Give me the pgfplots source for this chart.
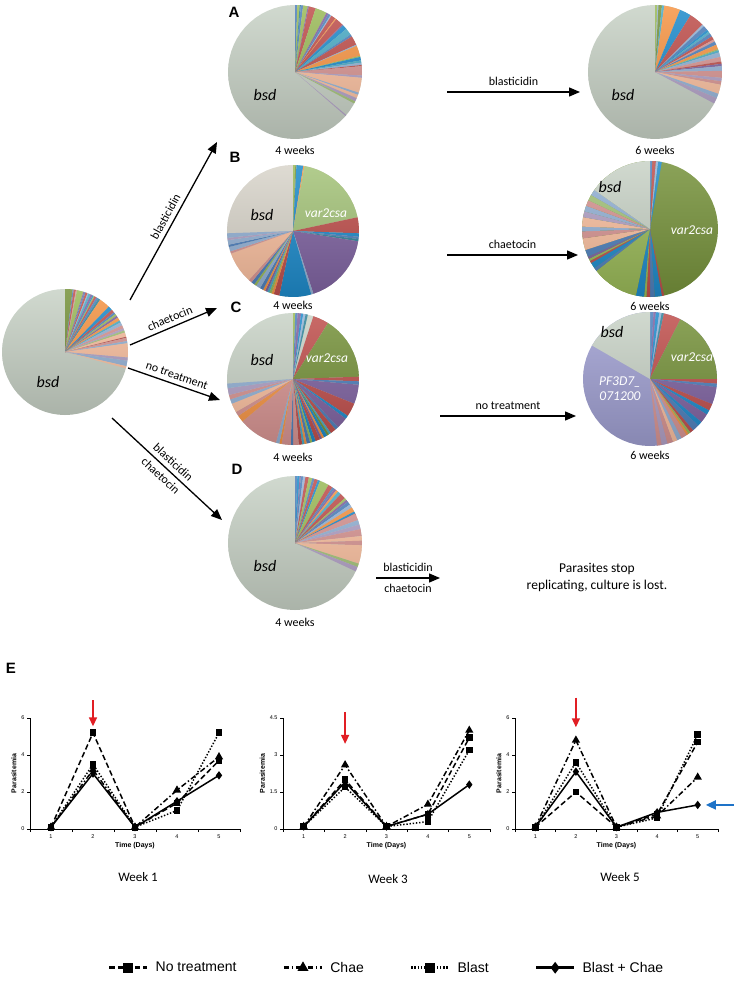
\documentclass[border=0pt]{standalone}
\usepackage{pgfplots}
\pgfplotsset{compat=1.18}
\usepackage{fontspec}
\setmainfont{Carlito}
\newfontfamily\arial{Liberation Sans}
\usetikzlibrary{arrows.meta}

\definecolor{cbsd}{RGB}{201,211,199}
\definecolor{cbsdB}{RGB}{217,213,203}
\definecolor{cB}{RGB}{79,129,189}
\definecolor{cR}{RGB}{192,80,77}
\definecolor{cG}{RGB}{155,187,89}
\definecolor{cDG}{RGB}{119,147,60}
\definecolor{cLG}{RGB}{165,196,122}
\definecolor{cP}{RGB}{128,100,162}
\definecolor{cA}{RGB}{75,172,198}
\definecolor{cAB}{RGB}{31,140,204}
\definecolor{cT}{RGB}{49,133,156}
\definecolor{cO}{RGB}{247,150,70}
\definecolor{cPE}{RGB}{250,192,160}
\definecolor{cPK}{RGB}{217,150,148}
\definecolor{cLB}{RGB}{149,179,215}
\definecolor{cLV}{RGB}{179,162,199}
\definecolor{cPF}{RGB}{160,160,210}
\definecolor{redarrow}{RGB}{225,30,36}
\definecolor{bluearrow}{RGB}{30,115,200}

% one pie slice, angles clockwise from 12 o'clock
\newcommand\slice[4][]{%
  \pgfmathtruncatemacro\nseg{max(1,ceil(((#4)-(#3))/6))}%
  \pgfmathsetmacro\stp{((#4)-(#3))/\nseg}%
  \xdef\pts{(0,0)}%
  \foreach \k in {0,...,\nseg}{%
    \pgfmathsetmacro\ang{90-(#3)-\stp*\k}%
    \xdef\pts{\pts (\ang,1)}}%
  \edef\doslice{\noexpand\addplot[fill=#2,draw=none,data cs=polar,#1] coordinates {\pts (0,0)};}%
  \doslice}

% centre x, centre y, diameter, background colour, slices
\newcommand\piechart[5]{%
  \begin{axis}[at={(#1pt,-#2pt)},anchor=center,scale only axis,
    width=#3pt,height=#3pt,xmin=-1,xmax=1,ymin=-1,ymax=1,hide axis,clip=false]
    \slice{#4}{0}{360}
    \foreach \c/\a/\b in {#5}{\slice{\c}{\a}{\b}}
    \slice[top color=white,bottom color=black,fill opacity=0.15]{none}{0}{360}
  \end{axis}}

\pgfplotsset{
  graph/.style={scale only axis,height=111pt,anchor=south west,
    xmin=0.5,xmax=5.5,ymin=0,clip=false,
    axis x line*=bottom,axis y line*=left,
    axis line style={line width=0.6pt},
    tick align=outside,major tick length=0pt,minor tick length=3pt,
    xtick={1,2,3,4,5},minor xtick={0.5,1.5,2.5,3.5,4.5,5.5},
    tick style={line width=0.5pt,black},
    tick label style={font=\arial\fontsize{5.5}{6}\selectfont},
    yticklabel style={xshift=-2pt},xticklabel style={yshift=-2pt},
    /pgf/number format/assume math mode=true,
    xlabel={Time (Days)},ylabel={Parasitemia},
    label style={font=\arial\bfseries\fontsize{7}{8}\selectfont},
    xlabel style={yshift=3pt},ylabel style={yshift=-2pt}},
  nt/.style={black,line width=1.5pt,dash pattern=on 5.5pt off 3pt,mark=square*,mark size=2.6pt,mark options={solid}},
  ch/.style={black,line width=1.5pt,dash pattern=on 5.5pt off 2.5pt on 1.5pt off 2.5pt,mark=triangle*,mark size=3.3pt,mark options={solid}},
  bl/.style={black,line width=1.5pt,dash pattern=on 1.4pt off 1.8pt,mark=square*,mark size=2.6pt,mark options={solid}},
  bc/.style={black,line width=1.5pt,mark=diamond*,mark size=3pt},
}

\tikzset{bigarrow/.style={line width=1.3pt,-{Triangle[length=11pt,width=9pt]}},
  redarr/.style={redarrow,line width=1.6pt,-{Triangle[length=9pt,width=8pt]}},
  lab/.style={font=\fontsize{12}{14}\selectfont},
  bsdlab/.style={font=\fontsize{16}{18}\selectfont\itshape},
  varlab/.style={font=\fontsize{13.5}{15}\selectfont\itshape,text=white},
  panel/.style={font=\arial\bfseries\fontsize{15}{17}\selectfont}}

\begin{document}
\begin{tikzpicture}[x=1pt,y=1pt]
\path[use as bounding box] (0,0) rectangle (733,-1008);

% starting culture
\piechart{65}{352}{126}{cbsd}{cDG/0/7, cB/7/8, cR/8/10, cPK/10/11, cG/11/17, cP/17/18, cB/18/19, cR/19/21, cLB/21/22, cA/22/24, cP/24/26, cAB/26/27, cG/27/28, cR/28/30, cB/30/32, cT/32/34, cO/34/44, cAB/44/48, cR/48/51, cB/51/53, cG/53/55, cP/55/57, cO/57/60, cA/60/62, cLB/62/65, cPK/65/68, cLV/68/70, cLG/70/72, cPE/72/76, cR/76/77, cPK/77/80, cLB/80/82, cPE/82/95, cLV/95/98, cLB/98/103, cPE/103/105}
\node[bsdlab] at (48,-382) {bsd};

% A
\piechart{295}{72}{134}{cbsd}{cB/0/2, cG/2/4, cT/4/5, cB/5/7, cG/7/11, cP/11/12, cR/12/18, cG/18/28, cP/28/30, cB/30/32, cLB/32/33, cR/33/37, cO/37/38, cR/38/45, cP/45/46, cAB/46/50, cA/50/56, cB/56/58, cR/58/66, cLB/66/67, cO/67/76, cG/76/77, cAB/77/80, cA/80/82, cLB/82/84, cR/84/85, cPK/85/93, cLV/93/95, cPE/95/108, cLB/108/110, cPE/110/113, cLV/113/116, cLG/116/118, cLV/130/131}
\node[bsdlab] at (265,-95) {bsd};
\node[lab] at (295,-150) {4 weeks};
\piechart{655}{72}{134}{cbsd}{cG/0/2, cLB/2/3, cDG/3/6, cA/6/8, cO/8/22, cAB/22/32, cR/32/45, cLB/45/47, cB/47/51, cAB/51/53, cA/53/55, cB/55/58, cR/58/61, cPK/61/63, cB/63/66, cO/66/70, cG/70/71, cA/71/73, cLB/73/77, cPK/77/81, cR/81/83, cP/83/85, cLB/85/89, cPK/89/95, cLV/95/98, cPK/98/101, cPE/101/109, cLB/109/113, cLV/113/118}
\node[bsdlab] at (623,-95) {bsd};
\node[lab] at (655,-150) {6 weeks};

% B
\piechart{293}{231}{132}{cbsdB}{cG/0/2, cDG/2/3, cAB/3/9, cO/9/10, cLG/10/78, cR/78/92, cAB/92/95, cB/95/97, cT/97/99, cP/99/162, cLB/162/164, cAB/164/192, cR/192/197, cO/197/199, cG/199/201, cA/201/203, cP/203/205, cO/205/207, cB/207/210, cLB/210/214, cG/214/216, cB/216/219, cPK/219/222, cPE/222/250, cPK/250/252, cLB/252/256, cB/256/258, cLB/258/262, cLV/262/264, cLB/264/268}
\node[bsdlab] at (262,-215) {bsd};
\node[varlab] at (326,-213) {var2csa};
\node[lab] at (293,-305) {4 weeks};
\piechart{650}{229}{136}{cDG}{cB/0/2, cR/2/5, cLB/5/7, cAB/7/10, cR/168/170, cAB/170/176, cB/176/180, cR/180/183, cG/183/185, cAB/185/192, cG/192/232, cB/232/235, cAB/235/240, cR/240/242, cG/242/244, cP/244/246, cB/246/252, cPE/252/262, cPK/262/268, cLB/268/272, cPE/272/280, cLV/280/285, cLB/285/290, cPK/290/295, cLG/295/300, cLB/300/305, cbsd/305/360}
\node[bsdlab] at (610,-187) {bsd};
\node[varlab] at (692,-230) {var2csa};
\node[lab] at (650,-306) {6 weeks};

% C
\piechart{293}{379}{132}{cbsd}{cG/0/2, cB/2/4, cP/4/7, cAB/7/9, cLB/9/11, cT/11/13, cR/18/32, cDG/32/88, cR/88/92, cB/92/95, cP/95/112, cR/112/124, cAB/124/127, cP/127/137, cB/137/140, cR/140/145, cA/145/147, cDG/147/149, cAB/149/152, cO/152/154, cP/154/156, cR/156/160, cAB/160/163, cG/163/165, cB/165/168, cO/168/170, cA/170/172, cR/172/175, cPK/175/180, cB/180/182, cPK/182/190, cO/190/192, cLB/192/195, cPK/195/230, cO/230/236, cPK/236/240, cPE/240/248, cLB/248/252, cPK/252/256, cLV/256/262, cLB/262/266}
\node[bsdlab] at (262,-360) {bsd};
\node[varlab] at (327,-358) {var2csa};
\node[lab] at (293,-457) {4 weeks};
\piechart{650}{379}{134}{cPF}{cB/0/3, cP/3/5, cAB/5/8, cLB/8/10, cT/10/12, cR/12/27, cDG/27/90, cR/90/94, cB/94/97, cP/97/112, cR/112/118, cAB/118/122, cP/122/130, cAB/130/134, cB/134/140, cR/140/143, cG/143/145, cO/145/147, cPK/147/152, cLB/152/156, cPE/156/160, cPK/160/165, cLV/165/170, cPK/170/174, cbsd/300/360}
\node[bsdlab] at (612,-332) {bsd};
\node[varlab] at (692,-357) {var2csa};
\node[varlab,align=center] at (620,-389) {PF3D7\_\\071200};
\node[lab] at (650,-455) {6 weeks};

% D
\piechart{295}{543}{134}{cbsd}{cB/0/2, cAB/2/4, cP/4/5, cB/5/7, cLB/7/9, cR/9/12, cG/12/15, cB/15/17, cR/17/20, cAB/20/22, cG/22/30, cR/30/34, cB/34/36, cP/36/38, cO/38/40, cA/40/43, cR/43/48, cG/48/50, cP/50/52, cB/52/55, cLB/55/58, cO/58/62, cAB/62/64, cR/64/66, cPK/64/70, cLB/70/74, cLV/74/78, cPK/78/84, cPE/84/88, cPK/88/92, cPE/92/108, cLG/108/111, cLV/111/115}
\node[bsdlab] at (265,-566) {bsd};
\node[lab] at (295,-622) {4 weeks};

% panel letters
\node[panel] at (234,-12) {A};
\node[panel] at (235,-157) {B};
\node[panel] at (236,-307) {C};
\node[panel] at (237,-469) {D};
\node[panel] at (11,-668) {E};

% arrows from the starting culture
\draw[bigarrow] (130,-300) -- node[lab,midway,above=1pt,sloped] {blasticidin} (217,-142);
\draw[bigarrow] (130,-345) -- node[lab,midway,above=1pt,sloped] {chaetocin} (217,-308);
\draw[bigarrow] (128,-368) -- node[lab,midway,above=1pt,sloped] {no treatment} (220,-400);
\draw[bigarrow] (112,-418) -- node[lab,midway,above=1pt,sloped] {blasticidin} node[lab,midway,below=1pt,sloped] {chaetocin} (222,-520);

% arrows between time points
\draw[bigarrow] (447,-92) -- node[lab,above=2pt] {blasticidin} (580,-92);
\draw[bigarrow] (447,-255) -- node[lab,above=2pt] {chaetocin} (578,-255);
\draw[bigarrow] (440,-416) -- node[lab,above=2pt] {no treatment} (576,-416);
\draw[bigarrow] (376,-578) -- node[lab,above=2pt] {blasticidin} node[lab,below=2pt] {chaetocin} (440,-578);
\node[font=\fontsize{13.5}{17}\selectfont,align=center] at (597,-578) {Parasites stop\\replicating, culture is lost.};

% E: parasitemia
\begin{axis}[graph,at={(30pt,-829pt)},width=210pt,ymax=6,ytick={0,2,4,6},minor ytick={0,2,4,6}]
\draw[redarr] (axis cs:2,6.95) -- (axis cs:2,5.55);
\addplot[nt] coordinates {(1,0.1) (2,5.2) (3,0.1) (4,1.4) (5,3.7)};
\addplot[ch] coordinates {(1,0.1) (2,3.2) (3,0.1) (4,2.1) (5,3.9)};
\addplot[bl] coordinates {(1,0.1) (2,3.5) (3,0.1) (4,1.0) (5,5.2)};
\addplot[bc] coordinates {(1,0.1) (2,3.0) (3,0.1) (4,1.5) (5,2.9)};
\end{axis}
\node[font=\fontsize{13}{15}\selectfont] at (138,-877) {Week 1};

\begin{axis}[graph,at={(283pt,-829pt)},width=207pt,ymax=4.5,ytick={0,1.5,3,4.5},minor ytick={0,1.5,3,4.5},
  legend columns=4,
  legend style={at={(0.5,-1.25)},anchor=center,draw=none,fill=none,
    font=\arial\fontsize{14}{16}\selectfont,
    /tikz/every odd column/.append style={column sep=5pt},
    /tikz/every even column/.append style={column sep=44pt}},
  legend image code/.code={\draw[mark repeat=2,mark phase=2,#1] plot coordinates {(0pt,0pt) (19pt,0pt) (38pt,0pt)};},
  legend image post style={line width=2.8pt,mark size=3.6pt}]
\draw[redarr] (axis cs:2,4.75) -- (axis cs:2,3.45);
\addplot[nt] coordinates {(1,0.1) (2,2.0) (3,0.1) (4,0.6) (5,3.7)};
\addplot[ch] coordinates {(1,0.1) (2,2.6) (3,0.1) (4,1.0) (5,4.0)};
\addplot[bl] coordinates {(1,0.1) (2,1.7) (3,0.1) (4,0.3) (5,3.2)};
\addplot[bc] coordinates {(1,0.1) (2,1.9) (3,0.1) (4,0.6) (5,1.8)};
\legend{No treatment,Chae,Blast,Blast + Chae}
\end{axis}
\node[font=\fontsize{13}{15}\selectfont] at (388,-879) {Week 3};

\begin{axis}[graph,at={(515pt,-829pt)},width=203pt,ymax=6,ytick={0,2,4,6},minor ytick={0,2,4,6}]
\draw[redarr] (axis cs:2,7.1) -- (axis cs:2,5.5);
\draw[bluearrow,line width=1.8pt,-{Triangle[length=10pt,width=9pt]}] (axis cs:5.9,1.3) -- (axis cs:5.2,1.3);
\addplot[nt] coordinates {(1,0.1) (2,2.0) (3,0.1) (4,0.8) (5,4.7)};
\addplot[ch] coordinates {(1,0.1) (2,4.8) (3,0.1) (4,0.7) (5,2.8)};
\addplot[bl] coordinates {(1,0.1) (2,3.6) (3,0.1) (4,0.6) (5,5.1)};
\addplot[bc] coordinates {(1,0.1) (2,3.1) (3,0.1) (4,0.9) (5,1.3)};
\end{axis}
\node[font=\fontsize{13}{15}\selectfont] at (620,-877) {Week 5};
\end{tikzpicture}
\end{document}
